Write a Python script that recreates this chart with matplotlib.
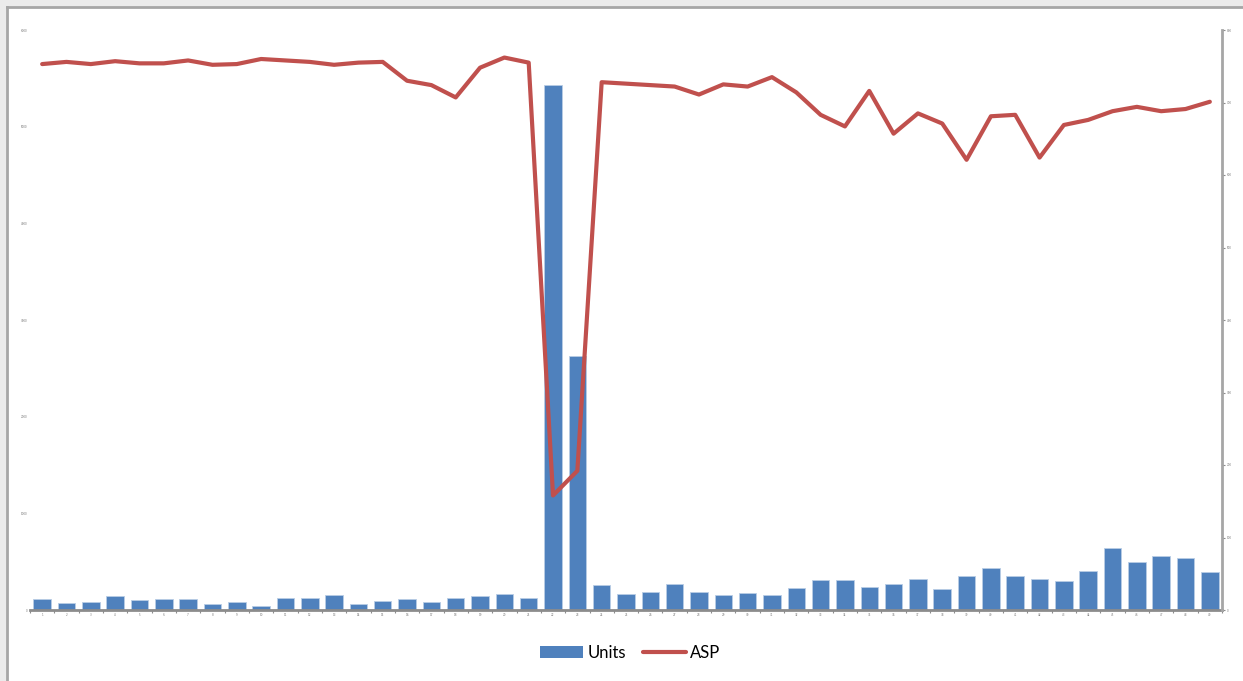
import matplotlib.pyplot as plt
import numpy as np
from matplotlib.patches import Patch, Rectangle
from matplotlib.lines import Line2D

# weekly units sold and average selling price
weeks = list(range(1, 50))
units = [114, 72, 86, 145, 103, 111, 114, 62, 86, 44,
         124, 127, 158, 62, 93, 117, 86, 124, 145, 166,
         124, 5431, 2628, 262, 166, 183, 272, 186, 158, 176,
         155, 231, 310, 310, 238, 272, 318, 217, 352, 431,
         355, 321, 300, 403, 641, 493, 559, 535, 393]
asp = [753, 756, 753, 757, 754, 754, 758, 752, 753, 760,
       758, 756, 752, 755, 756, 730, 724, 707, 748, 762,
       755, 158, 192, 728, 726, 724, 722, 711, 725, 722,
       735, 714, 683, 667, 716, 657, 685, 671, 621, 681,
       683, 624, 669, 676, 688, 694, 688, 691, 701]
units_ticks = [0, 1000, 2000, 3000, 4000, 5000, 6000]
asp_ticks = [0, 100, 200, 300, 400, 500, 600, 700, 800]

blue = '#4f81bd'
red = '#c0504d'
grey = '#8c8c8c'

fig = plt.figure(figsize=(12.43, 6.81), dpi=100)
fig.patch.set_facecolor('white')

# window frame around the chart
fig.patches.append(Rectangle((0, 0), 7 / 1243, 1, transform=fig.transFigure,
                             facecolor='#ebebeb', edgecolor='none', zorder=0))
fig.patches.append(Rectangle((0, 1 - 7 / 681), 1, 7 / 681, transform=fig.transFigure,
                             facecolor='#ebebeb', edgecolor='none', zorder=0))
fig.add_artist(Line2D([7 / 1243, 7 / 1243], [0, 1 - 7 / 681], transform=fig.transFigure,
                      color='#a6a6a6', lw=2))
fig.add_artist(Line2D([7 / 1243, 1], [1 - 7 / 681, 1 - 7 / 681], transform=fig.transFigure,
                      color='#a6a6a6', lw=2))

ax = fig.add_axes([30 / 1243, 71 / 681, 1192 / 1243, 580 / 681])
x = np.arange(len(weeks))
ax.bar(x, units, width=0.72, color=blue, edgecolor='#b9cde5', linewidth=0.6, zorder=2)
ax.set_xlim(-0.5, len(weeks) - 0.5)
ax.set_ylim(units_ticks[0], units_ticks[-1])
ax.set_yticks(units_ticks)
ax.set_yticklabels([str(t) for t in units_ticks], fontsize=2, color='#777777')
ax.tick_params(axis='y', length=0, pad=2)
ax.set_xticks(x)
ax.set_xticklabels([str(w) for w in weeks], fontsize=2, color='#777777')
ax.set_xticks(np.arange(-0.5, len(weeks)), minor=True)
ax.tick_params(axis='x', which='major', length=0, pad=2)
ax.tick_params(axis='x', which='minor', length=2.5, color=grey, width=0.8)
for side in ['left', 'top', 'right']:
    ax.spines[side].set_visible(False)
ax.spines['bottom'].set_color(grey)
ax.spines['bottom'].set_linewidth(2)

ax2 = ax.twinx()
ax2.plot(x, asp, color=red, lw=3, solid_joinstyle='round', solid_capstyle='round', zorder=3)
ax2.set_ylim(asp_ticks[0], asp_ticks[-1])
ax2.set_yticks(asp_ticks)
ax2.set_yticklabels([str(t) for t in asp_ticks], fontsize=2, color='#777777')
ax2.tick_params(axis='y', length=2.5, color=grey, pad=1)
for side in ['left', 'top', 'bottom']:
    ax2.spines[side].set_visible(False)
ax2.spines['right'].set_color('#a6a6a6')
ax2.spines['right'].set_linewidth(2)

handles = [Patch(facecolor=blue, edgecolor='none', label='Units'),
           Line2D([0], [0], color=red, lw=3, solid_capstyle='round', label='ASP')]
fig.legend(handles=handles, loc='center', bbox_to_anchor=(0.507, 0.041), ncol=2,
           frameon=False, prop={'family': 'Lato', 'size': 12},
           handlelength=2.6, handleheight=0.75, handletextpad=0.25, columnspacing=1.0)

fig.savefig('out.png', dpi=100)
